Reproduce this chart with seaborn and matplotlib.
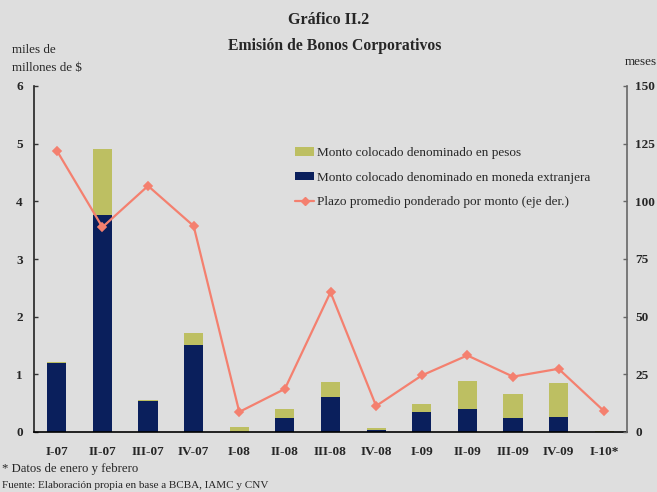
import matplotlib
matplotlib.use("Agg")
import matplotlib.pyplot as plt
import seaborn as sns
import pandas as pd
from matplotlib.patches import Patch
from matplotlib.lines import Line2D

categories = ["I-07", "II-07", "III-07", "IV-07", "I-08", "II-08", "III-08",
              "IV-08", "I-09", "II-09", "III-09", "IV-09", "I-10*"]
moneda_extranjera = [1.20, 3.77, 0.54, 1.51, 0.00, 0.24, 0.61, 0.035, 0.35, 0.40, 0.24, 0.26, 0.00]
pesos = [0.02, 1.13, 0.02, 0.21, 0.087, 0.16, 0.26, 0.035, 0.14, 0.49, 0.42, 0.59, 0.017]
plazo = [122.0, 88.8, 106.7, 89.3, 8.7, 18.7, 60.6, 11.3, 24.5, 33.2, 24.0, 27.4, 9.0]
yticks_left = [0, 1, 2, 3, 4, 5, 6]
yticks_right = [0, 25, 50, 75, 100, 125, 150]

NAVY = "#0A1F5C"
OLIVE = "#BDBF62"
SALMON = "#F4806F"
BG = "#DEDEDE"

sns.set_theme(style="white")
plt.rcParams['font.family'] = ['Liberation Serif', 'DejaVu Serif']

df = pd.DataFrame({"cat": categories, "ext": moneda_extranjera,
                   "total": [a + b for a, b in zip(moneda_extranjera, pesos)],
                   "plazo": plazo})

fig = plt.figure(figsize=(6.57, 4.92), dpi=100, facecolor=BG)
ax = fig.add_axes([34/657, 1-432/492, (627-34)/657, (432-86)/492])
ax.set_facecolor(BG)

sns.barplot(data=df, x="cat", y="total", color=OLIVE, width=0.42, ax=ax,
            saturation=1, edgecolor="none", linewidth=0)
sns.barplot(data=df, x="cat", y="ext", color=NAVY, width=0.42, ax=ax,
            saturation=1, edgecolor="none", linewidth=0)
ax.set_xlim(-0.5, len(categories) - 0.5)
ax.set_ylim(0, 6)
ax.set_yticks(yticks_left)
ax.set_yticklabels([str(v) for v in yticks_left], fontweight="bold", fontsize=9.5)
ax.set_xlabel("")
ax.set_ylabel("")
ax.tick_params(axis="x", length=0, pad=10)
for lbl in ax.get_xticklabels():
    lbl.set_fontweight("bold")
    lbl.set_fontsize(9.5)
ax.tick_params(axis="y", direction="in", length=3, width=1, color="#333333", pad=8, left=True)

ax2 = ax.twinx()
sns.pointplot(data=df, x="cat", y="plazo", color=SALMON, markers="D", linestyles="-",
              ax=ax2, markersize=4, linewidth=1.6)
ax2.set_xlim(-0.5, len(categories) - 0.5)
ax2.set_ylim(0, 150)
ax2.set_yticks(yticks_right)
ax2.set_yticklabels([str(v) for v in yticks_right], fontweight="bold", fontsize=9.5)
ax2.set_ylabel("")
ax2.set_xlabel("")
ax2.tick_params(axis="y", direction="in", length=3, width=1, color="#666666", pad=6, right=True)

for a in (ax, ax2):
    a.spines["top"].set_visible(False)
ax.spines["right"].set_visible(False)
ax2.spines["left"].set_visible(False)
ax2.spines["bottom"].set_visible(False)
ax.spines["left"].set_color("#222222")
ax.spines["left"].set_linewidth(1.2)
ax.spines["bottom"].set_color("#000000")
ax.spines["bottom"].set_linewidth(1.2)
ax2.spines["right"].set_color("#666666")
ax2.spines["right"].set_linewidth(1.2)

handles = [Patch(facecolor=OLIVE, edgecolor="none"),
           Patch(facecolor=NAVY, edgecolor="none"),
           Line2D([0], [0], color=SALMON, lw=1.6, marker="D", markersize=4)]
labels = ["Monto colocado denominado en pesos",
          "Monto colocado denominado en moneda extranjera",
          "Plazo promedio ponderado por monto (eje der.)"]
fig.legend(handles, labels, loc="upper left", bbox_to_anchor=(290/657, 1-142/492),
           frameon=False, fontsize=9.5, handlelength=1.45, handleheight=0.6,
           handletextpad=0.2, labelspacing=0.95, borderaxespad=0)

fig.text(329/657, 1-20/492, "Gráfico II.2", ha="center", va="center",
         fontsize=11.5, fontweight="bold")
fig.text(335/657, 1-46/492, "Emisión de Bonos Corporativos", ha="center", va="center",
         fontsize=11.3, fontweight="bold")
fig.text(12/657, 1-50/492, "miles de", ha="left", va="center", fontsize=9.4)
fig.text(12/657, 1-68/492, "millones de $", ha="left", va="center", fontsize=9.4)
fig.text(657/657, 1-62/492, "meses", ha="right", va="center", fontsize=9.4)
fig.text(2/657, 1-469/492, "* Datos de enero y febrero", ha="left", va="center", fontsize=9.2)
fig.text(2/657, 1-486/492, "Fuente: Elaboración propia en base a BCBA, IAMC y CNV",
         ha="left", va="center", fontsize=8)

fig.savefig("out.png", dpi=100, facecolor=BG)
